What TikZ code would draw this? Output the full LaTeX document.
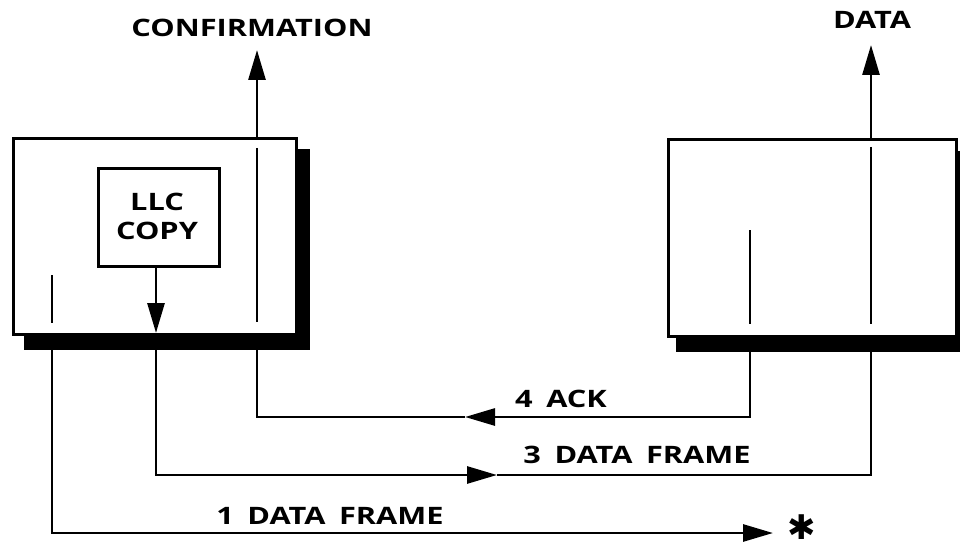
\documentclass[tikz,border=0pt]{standalone}
\usepackage{fontspec}
\setmainfont[FakeStretch=1.28,WordSpace=1.7]{Open Sans}
\newfontfamily\starfont{DejaVu Sans}
\usetikzlibrary{arrows.meta}
\begin{document}
\begin{tikzpicture}[x=1pt,y=-1pt,
  lbl/.style={font=\bfseries\fontsize{24}{27}\selectfont, inner sep=0pt, anchor=center},
  frame/.style={draw, line width=3pt, fill=white, inner sep=0pt, anchor=north west},
  shadow/.style={fill=black},
  ln/.style={line width=2.8pt},
  arr/.style={ln, -{Triangle[length=30pt,width=17pt]}},
]
\useasboundingbox (0,0) rectangle (960,548);
% shadows
\fill[shadow] (24,149) rectangle (310,350);
\fill[shadow] (676,151) rectangle (972,352);
% boxes
\node[frame, minimum width=283pt, minimum height=196pt] (lbox) at (12,137) {};
\node[frame, minimum width=288pt, minimum height=197pt] (rbox) at (667,138) {};
\node[frame, minimum width=121pt, minimum height=98pt] (llc) at (97,167) {};
\node[lbl, align=center] (llct) at (157,216) {LLC\\[2pt]COPY};
% labels
\node[lbl] (conf) at (252,28) {CONFIRMATION};
\node[lbl] (data) at (872,20) {DATA};
\node[lbl] (ack) at (561,399) {4 ACK};
\node[lbl] (df3) at (637,455) {3 DATA FRAME};
\node[lbl] (df1) at (330,516) {1 DATA FRAME};
\node[inner sep=0pt, anchor=base, font=\starfont\bfseries\fontsize{34}{34}\selectfont] (star) at (802,539) {✱};
% coordinates
\coordinate (confTop) at (257,50);
\coordinate (confBot) at (257,137);
\coordinate (dataTop) at (871,45);
\coordinate (dataBot) at (871,138);
\coordinate (lA1) at (52,275); \coordinate (lA2) at (52,323); \coordinate (lA3) at (52,333);
\coordinate (lB1) at (156,265); \coordinate (lB2) at (156,333);
\coordinate (lC1) at (257,148); \coordinate (lC2) at (257,322); \coordinate (lC3) at (257,333);
\coordinate (rA1) at (750,230); \coordinate (rA2) at (750,324); \coordinate (rA3) at (750,335);
\coordinate (rB1) at (871,147); \coordinate (rB2) at (871,324); \coordinate (rB3) at (871,335);
\coordinate (ackY) at (465,417);
\coordinate (df3Y) at (497,475);
\coordinate (df1End) at (773,533);
% up arrows
\draw[arr] (confBot) -- (confTop);
\draw[arr] (dataBot) -- (dataTop);
% inner lines
\draw[ln] (lA1) -- (lA2);
\draw[arr] (lB1) -- (lB2);
\draw[ln] (lC1) -- (lC2);
\draw[ln] (rA1) -- (rA2);
\draw[ln] (rB1) -- (rB2);
% 4 ACK
\draw[arr] (rA3) |- (ackY);
\draw[ln] (ackY) -| (lC3);
% 3 DATA FRAME
\draw[arr] (lB2) |- (df3Y);
\draw[ln] (df3Y) -| (rB3);
% 1 DATA FRAME
\draw[arr] (lA3) |- (df1End);
\end{tikzpicture}
\end{document}
